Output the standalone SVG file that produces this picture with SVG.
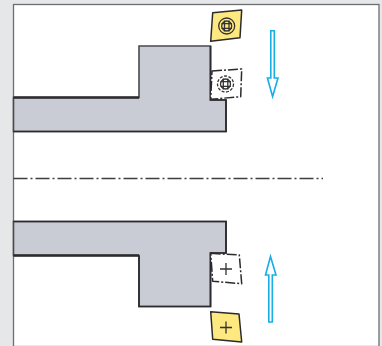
<svg xmlns="http://www.w3.org/2000/svg" width="382" height="346" viewBox="0 0 382 346">
<style>
.part{fill:#c9ccd4;stroke:#4a4a4d;stroke-width:1.6}
.heavy{fill:none;stroke:#2b2a2c;stroke-width:2.4}
.thin{fill:none;stroke:#2b2a2c;stroke-width:1.7}
.yel{fill:#fde97f;stroke:#2b2a2c;stroke-width:1.5;stroke-linejoin:round}
.ghost{fill:#fff;stroke:#2b2a2c;stroke-width:1.5;stroke-dasharray:10 2 2 2;stroke-linejoin:round}
.arrow{fill:#fff;stroke:#17aee6;stroke-width:1.6;stroke-linejoin:miter}
.mark{fill:none;stroke:#333;stroke-width:1.3}
.center{fill:none;stroke:#3f3f42;stroke-width:1.3;stroke-dasharray:14 3 2 3}
</style>
<rect width="382" height="346" fill="#e6e7e8"/>
<rect x="13.500" y="4.500" width="365.500" height="342" fill="#fff" stroke="#6d6e71" stroke-width="1.300"/>
<g id="workpiece-top">
<path class="part" d="M13.500 97.500H139V46H210.500V100H226V131.500H13.500Z"/>
<path class="heavy" d="M13.500 97.500H139"/>
<path class="thin" d="M210.500 46V100H226V131.500H13.500"/>
</g>
<g id="workpiece-bottom">
<path class="part" d="M13.500 221.500H226V253H210.500V306.500H139V255.500H13.500Z"/>
<path class="heavy" d="M13.500 255.500H139"/>
<path class="thin" d="M13.500 221.500H226V253H210.500V306.500H139V255.500"/>
</g>
<g id="centerline"><path class="center" d="M13.500 178.500H323"/></g>
<g id="insert-top">
<path class="yel" d="M212.700 12.700L241.700 10L240 37.700L210.700 41.300Z"/>
<circle class="mark" cx="226.700" cy="26" r="8" stroke-width="1.600"/>
<circle class="mark" cx="226.700" cy="26" r="5"/>
<path class="mark" d="M224.500 20.500V31.500M229 20.500V31.500M221.500 23.700H232M221.500 28.300H232"/>
</g>
<g id="insert-top-ghost">
<path class="ghost" d="M212 71L241.700 69L240.700 96.700L210.700 99.300Z"/>
<circle class="mark" cx="225.500" cy="84" r="8" stroke-dasharray="3 1.500"/>
<circle class="mark" cx="225.500" cy="84" r="5"/>
<path class="mark" d="M223.300 78.500V89.500M227.800 78.500V89.500M220.500 81.700H231M220.500 86.300H231"/>
</g>
<g id="insert-bottom-ghost">
<path class="ghost" d="M210.700 253.300L239.300 255L241.700 283.700L212.700 281.300Z"/>
<path class="mark" d="M226 263V275M220 269H232"/>
</g>
<g id="insert-bottom">
<path class="yel" d="M210.700 311.700L239 314L241.700 342L212.700 339.300Z"/>
<path class="mark" d="M226 321.500V333.500M220 327.500H232"/>
</g>
<g id="connectors">
<path class="arrow" d="M270.800 30.800H274.300V78H278L272.600 96.500L267.400 78H270.800Z"/>
<path class="arrow" d="M268.800 322H272.300V275H276L270.500 256.500L265.500 275H268.800Z"/>
</g>
</svg>
